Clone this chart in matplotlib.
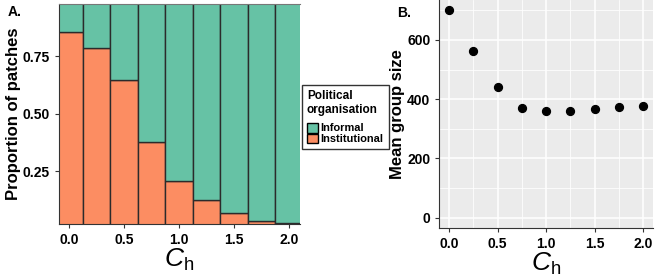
import matplotlib
matplotlib.use("Agg")
import matplotlib.pyplot as plt
from matplotlib.patches import Patch
import numpy as np

plt.rcParams['font.family'] = ['Liberation Sans', 'DejaVu Sans']
plt.rcParams['mathtext.fontset'] = 'custom'
plt.rcParams['mathtext.it'] = 'Liberation Sans:italic'
plt.rcParams['mathtext.rm'] = 'Liberation Sans'

# Data
ch = [0.0, 0.25, 0.5, 0.75, 1.0, 1.25, 1.5, 1.75, 2.0]
institutional = [0.856, 0.783, 0.644, 0.379, 0.207, 0.127, 0.067, 0.033, 0.025]
informal = [1 - v for v in institutional]
group_size = [701, 564, 440, 370, 360, 361, 366, 375, 376]
xticks = [0.0, 0.5, 1.0, 1.5, 2.0]
xtick_labels = ["0.0", "0.5", "1.0", "1.5", "2.0"]
yticks_a = [0.25, 0.50, 0.75]
ytick_labels_a = ["0.25", "0.50", "0.75"]
yticks_b = [0, 200, 400, 600]

c_informal = "#66c2a5"
c_institutional = "#fc8d62"

W, H = 664, 277
fig = plt.figure(figsize=(W / 100, H / 100), dpi=100)

def box(l, r, t, b):
    return [l / W, 1 - b / H, (r - l) / W, (b - t) / H]

# Panel A
axA = fig.add_axes(box(58.7, 300, 4, 224))
axA.bar(ch, institutional, width=0.25, color=c_institutional, edgecolor="#2b2b2b", linewidth=1.0)
axA.bar(ch, informal, width=0.25, bottom=institutional, color=c_informal, edgecolor="#2b2b2b", linewidth=1.0)
axA.set_xlim(-0.094, 2.1)
axA.set_ylim(0.021, 0.976)
axA.set_xticks(xticks)
axA.set_xticklabels(xtick_labels)
axA.set_yticks(yticks_a)
axA.set_yticklabels(ytick_labels_a)
axA.set_ylabel("Proportion of patches", fontsize=12, fontweight="bold")
axA.yaxis.set_label_coords((21 - 58.7) / 241.3, 0.5)
axA.set_xlabel(r"$C_{\mathrm{h}}$", fontsize=19, labelpad=0)
axA.spines["right"].set_visible(False)
axA.spines["top"].set_color("#777777")
axA.spines["left"].set_color("#333333")
axA.spines["bottom"].set_color("#333333")
axA.tick_params(axis="both", labelsize=10, colors="#333333", labelcolor="black", length=3, width=0.8)
for lab in axA.get_xticklabels() + axA.get_yticklabels():
    lab.set_fontweight("bold")

handles = [Patch(facecolor=c_informal, edgecolor="black", linewidth=1.0, label="Informal"),
           Patch(facecolor=c_institutional, edgecolor="black", linewidth=1.0, label="Institutional")]
leg = fig.legend(handles=handles, title="Political\norganisation", loc="upper left",
                 bbox_to_anchor=(302 / W, 1 - 85 / H), frameon=True, fancybox=False,
                 prop={"size": 7.9, "weight": "bold"}, title_fontproperties={"size": 8.5, "weight": "bold"},
                 handlelength=1.0, handleheight=1.0, handletextpad=0.25, borderpad=0.45,
                 labelspacing=0.02, alignment="left", borderaxespad=0)
leg.get_frame().set_edgecolor("black")
leg.get_frame().set_linewidth(1.0)
try:
    leg._legend_box.sep = 5
except Exception:
    pass

# Panel B
axB = fig.add_axes(box(439.3, 653, 0, 228))
axB.set_facecolor("#ebebeb")
axB.scatter(ch, group_size, s=32, color="black", zorder=3)
axB.set_xlim(-0.1, 2.1)
axB.set_ylim(-35, 735)
axB.set_xticks(xticks)
axB.set_xticklabels(xtick_labels)
axB.set_yticks(yticks_b)
axB.set_xticks([0.25, 0.75, 1.25, 1.75], minor=True)
axB.set_yticks([100, 300, 500, 700], minor=True)
axB.grid(which="major", color="white", linewidth=1.1)
axB.grid(which="minor", color="white", linewidth=0.55)
axB.set_axisbelow(True)
for s in ["top", "right"]:
    axB.spines[s].set_visible(False)
axB.spines["left"].set_color("#333333")
axB.spines["bottom"].set_color("#333333")
axB.tick_params(axis="both", labelsize=10, colors="#333333", labelcolor="black", length=3, width=0.8)
axB.tick_params(which="minor", length=0)
for lab in axB.get_xticklabels() + axB.get_yticklabels():
    lab.set_fontweight("bold")
axB.set_ylabel("Mean group size", fontsize=12, fontweight="bold")
axB.yaxis.set_label_coords((405 - 439.3) / 213.7, 0.5)
axB.set_xlabel(r"$C_{\mathrm{h}}$", fontsize=19, labelpad=0)

fig.text(8 / W, 1 - 12 / H, "A.", fontsize=10, fontweight="bold", va="center", ha="left")
fig.text(397 / W, 1 - 13 / H, "B.", fontsize=10, fontweight="bold", va="center", ha="left")

fig.savefig("out.png", dpi=100)
